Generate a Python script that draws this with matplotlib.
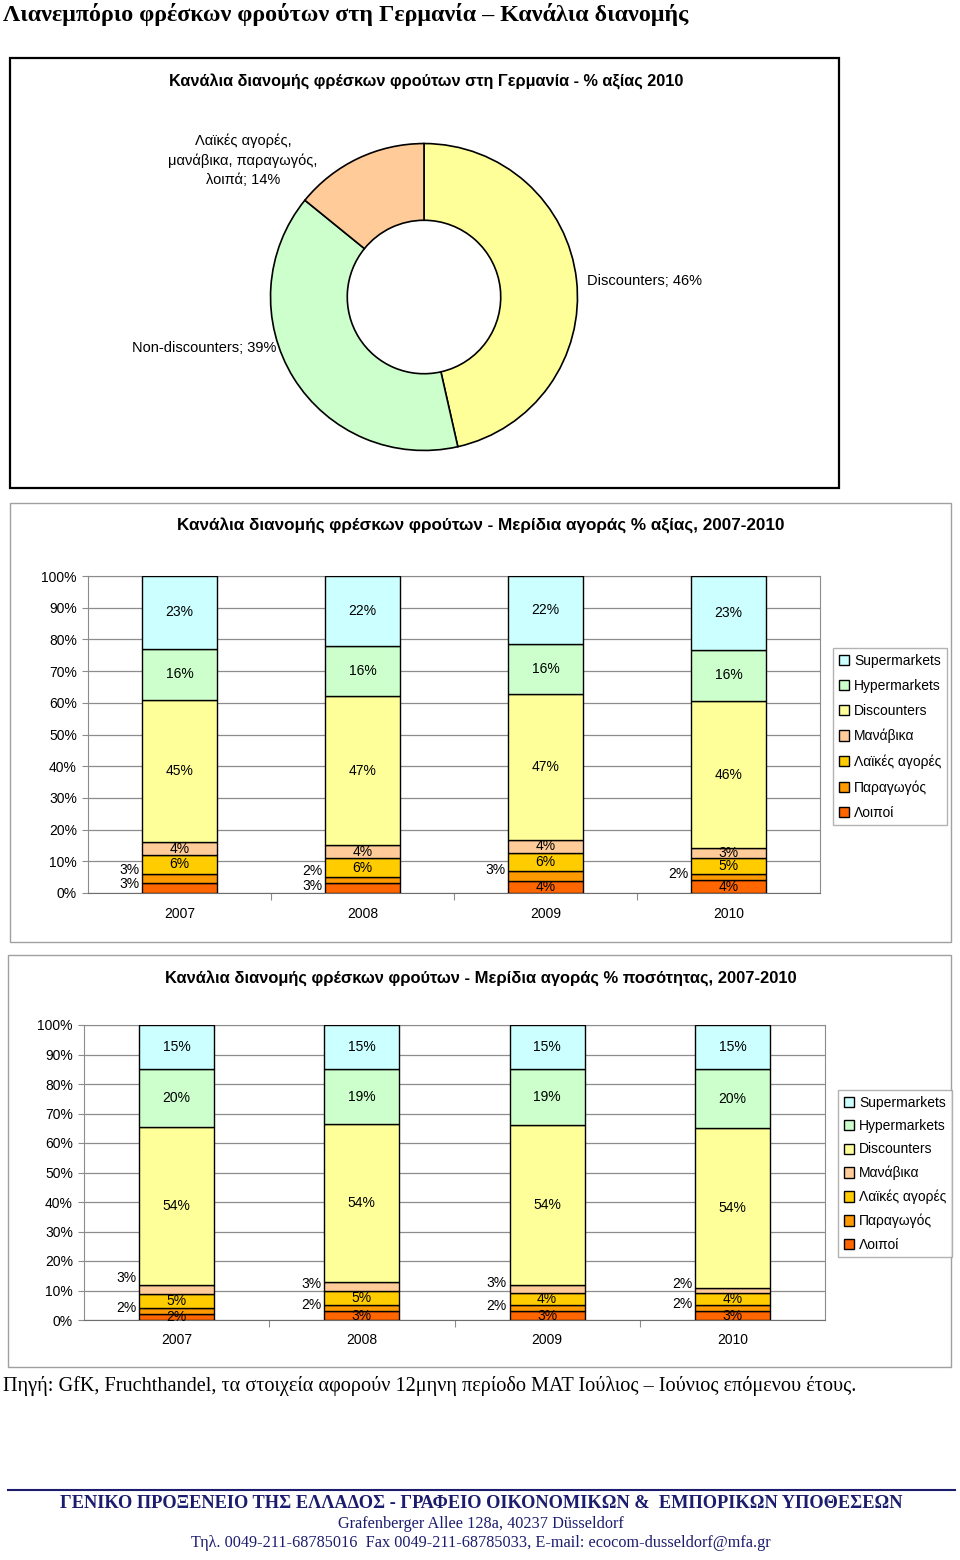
import matplotlib
matplotlib.use('Agg')
import matplotlib.pyplot as plt
from matplotlib.patches import Rectangle, Patch
from matplotlib.lines import Line2D
import numpy as np

plt.rcParams['font.family'] = ['Liberation Sans', 'DejaVu Sans']

W, H = 960, 1560

# ---- data ----
years = ['2007', '2008', '2009', '2010']
series_names = ['Λοιποί', 'Παραγωγός', 'Λαϊκές αγορές', 'Μανάβικα',
                'Discounters', 'Hypermarkets', 'Supermarkets']  # bottom -> top
series_colors = ['#FF6600', '#FF9900', '#FFCC00', '#FFCC99',
                 '#FFFF99', '#CCFFCC', '#CCFFFF']

# value share (%), 2007-2010
val_loipoi = [3, 3, 4, 4]
val_paragogos = [3, 2, 3, 2]
val_laikes = [6, 6, 6, 5]
val_manavika = [4, 4, 4, 3]
val_discounters = [45, 47, 47, 46]
val_hypermarkets = [16, 16, 16, 16]
val_supermarkets = [23, 22, 22, 23]

# volume share (%), 2007-2010
qty_loipoi = [2, 3, 3, 3]
qty_paragogos = [2, 2, 2, 2]
qty_laikes = [5, 5, 4, 4]
qty_manavika = [3, 3, 3, 2]
qty_discounters = [54, 54, 54, 54]
qty_hypermarkets = [20, 19, 19, 20]
qty_supermarkets = [15, 15, 15, 15]

# donut 2010
donut_labels = ['Discounters', 'Non-discounters',
                'Λαϊκές αγορές,\nμανάβικα, παραγωγός,\nλοιπά']
donut_values = [46, 39, 14]
donut_colors = ['#FFFF99', '#CCFFCC', '#FFCC99']


def px_axes(fig, x0, y0, x1, y1):
    return fig.add_axes([x0 / W, 1 - y1 / H, (x1 - x0) / W, (y1 - y0) / H])


def fig_text(fig, x, y, s, **kw):
    fig.text(x / W, 1 - y / H, s, **kw)


def fig_rect(fig, x0, y0, x1, y1, **kw):
    fig.patches.append(Rectangle((x0 / W, 1 - y1 / H), (x1 - x0) / W, (y1 - y0) / H,
                                 transform=fig.transFigure, fill=False, **kw))


def stacked_chart(fig, box, data, outside, legend_box, legend_gap, year_pad):
    x0, y0, x1, y1 = box
    ax = px_axes(fig, x0, y0, x1, y1)
    arr = np.array(data, dtype=float)
    arr = arr / arr.sum(axis=0) * 100  # 100% stacked
    xs = np.arange(len(years))
    bw = 0.405
    bottom = np.zeros(len(years))
    handles = []
    for i, name in enumerate(series_names):
        ax.bar(xs, arr[i], bw, bottom=bottom, color=series_colors[i],
               edgecolor='black', linewidth=1, zorder=3)
        for j in range(len(years)):
            label = '%d%%' % data[i][j]
            yc = bottom[j] + arr[i][j] / 2
            if (i, j) in outside:
                ax.text(xs[j] - bw / 2 - 0.015, yc + outside[(i, j)], label,
                        ha='right', va='center', fontsize=10, zorder=4)
            else:
                ax.text(xs[j], yc, label, ha='center', va='center',
                        fontsize=10, zorder=4)
        bottom += arr[i]
        handles.append(Patch(facecolor=series_colors[i], edgecolor='black',
                             linewidth=1, label=name))
    ax.set_xlim(-0.5, len(years) - 0.5)
    ax.set_ylim(0, 100)
    ax.set_yticks(range(0, 101, 10))
    ax.set_yticklabels(['%d%%' % v for v in range(0, 101, 10)], fontsize=10)
    ax.yaxis.grid(True, color='#8C8C8C', linewidth=0.9)
    ax.set_axisbelow(True)
    ax.set_xticks([0.5, 1.5, 2.5])
    ax.set_xticklabels([])
    ax.set_xticks(xs, minor=True)
    ax.set_xticklabels(years, minor=True, fontsize=10)
    ax.tick_params(axis='x', which='major', length=5, color='#8C8C8C')
    ax.tick_params(axis='x', which='minor', length=0, pad=year_pad)
    ax.tick_params(axis='y', length=4, color='#8C8C8C', pad=4)
    for sp in ax.spines.values():
        sp.set_color('#8C8C8C')
    ax.spines['bottom'].set_color('#6E6E6E')
    lx0, ly0, lx1, ly1 = legend_box
    leg = fig.legend(handles=handles[::-1], loc='upper left',
                     bbox_to_anchor=(lx0 / W, 1 - ly0 / H),
                     fontsize=10, frameon=True, fancybox=False,
                     edgecolor='#A0A0A0', handlelength=0.75, handleheight=0.75,
                     handletextpad=0.35, labelspacing=legend_gap,
                     borderpad=0.4, borderaxespad=0)
    leg.get_frame().set_linewidth(1)
    return ax


fig = plt.figure(figsize=(W / 100, H / 100), dpi=100)

# ---- page title ----
fig_text(fig, 3, 14, 'Λιανεμπόριο φρέσκων φρούτων στη Γερμανία – Κανάλια διανομής',
         family='Liberation Serif', fontweight='bold', fontsize=17.3,
         ha='left', va='center')

# ---- panel 1: donut ----
fig_rect(fig, 10, 58, 839, 488, edgecolor='black', linewidth=1.6)
fig_text(fig, 426, 82, 'Κανάλια διανομής φρέσκων φρούτων στη Γερμανία - % αξίας 2010',
         fontweight='bold', fontsize=11.7, ha='center', va='center')
axd = px_axes(fig, 269, 142, 579, 452)
axd.pie(donut_values, colors=donut_colors, startangle=90, counterclock=False,
        radius=1, wedgeprops=dict(width=0.5, edgecolor='black', linewidth=1.2))
axd.set_xlim(-1.01, 1.01)
axd.set_ylim(-1.01, 1.01)
axd.set_aspect('auto')
axd.axis('off')
fig_text(fig, 587, 281, '%s; %d%%' % (donut_labels[0], donut_values[0]),
         fontsize=10.5, ha='left', va='center')
fig_text(fig, 276, 348, '%s; %d%%' % (donut_labels[1], donut_values[1]),
         fontsize=10.5, ha='right', va='center')
fig_text(fig, 243, 160, '%s; %d%%' % (donut_labels[2], donut_values[2]),
         fontsize=10.5, ha='center', va='center', linespacing=1.45)

# ---- panel 2: value share ----
fig_rect(fig, 10, 503, 951, 942, edgecolor='#A0A0A0', linewidth=1)
fig_text(fig, 481, 526, 'Κανάλια διανομής φρέσκων φρούτων - Μερίδια αγοράς % αξίας, 2007-2010',
         fontweight='bold', fontsize=12.3, ha='center', va='center')
data1 = [val_loipoi, val_paragogos, val_laikes, val_manavika,
         val_discounters, val_hypermarkets, val_supermarkets]
out1 = {(0, 0): 1.3, (1, 0): 2.8, (0, 1): 0.7, (1, 1): 2.9,
        (1, 2): 1.9, (1, 3): 1.0}
stacked_chart(fig, (88, 576, 820, 893), data1, out1, (833, 648, 946, 822), 0.8, 10)

# ---- panel 3: volume share ----
fig_rect(fig, 8, 955, 951, 1367, edgecolor='#A0A0A0', linewidth=1)
fig_text(fig, 481, 978, 'Κανάλια διανομής φρέσκων φρούτων - Μερίδια αγοράς % ποσότητας, 2007-2010',
         fontweight='bold', fontsize=11.9, ha='center', va='center')
data2 = [qty_loipoi, qty_paragogos, qty_laikes, qty_manavika,
         qty_discounters, qty_hypermarkets, qty_supermarkets]
out2 = {(3, 0): 3.8, (1, 0): 1.1, (3, 1): 0.8, (1, 1): 1.1,
        (3, 2): 2.0, (1, 2): 0.7, (3, 3): 2.2, (1, 3): 1.4}
stacked_chart(fig, (84, 1025, 825, 1320), data2, out2, (838, 1090, 946, 1257), 0.68, 9)

# ---- source and footer ----
fig_text(fig, 3, 1386, 'Πηγή: GfK, Fruchthandel, τα στοιχεία αφορούν 12μηνη περίοδο MAT '
         'Ιούλιος – Ιούνιος επόμενου έτους.',
         family='Liberation Serif', fontsize=14.6, ha='left', va='center')
navy = '#1C1C6E'
fig.lines.append(Line2D([8 / W, 955 / W], [1 - 1490 / H, 1 - 1490 / H],
                        transform=fig.transFigure, color=navy, linewidth=1.5))
fig_text(fig, 481, 1504, 'ΓΕΝΙΚΟ ΠΡΟΞΕΝΕΙΟ ΤΗΣ ΕΛΛΑΔΟΣ - ΓΡΑΦΕΙΟ ΟΙΚΟΝΟΜΙΚΩΝ &  ΕΜΠΟΡΙΚΩΝ ΥΠΟΘΕΣΕΩΝ',
         family='Liberation Serif', fontweight='bold', fontsize=13.2, color=navy,
         ha='center', va='center')
fig_text(fig, 481, 1524, 'Grafenberger Allee 128a, 40237 Düsseldorf',
         family='Liberation Serif', fontsize=11.7, color=navy, ha='center', va='center')
fig_text(fig, 481, 1543, 'Τηλ. 0049-211-68785016  Fax 0049-211-68785033, E-mail: ecocom-dusseldorf@mfa.gr',
         family='Liberation Serif', fontsize=11.7, color=navy, ha='center', va='center')

fig.savefig('out.png', dpi=100)
